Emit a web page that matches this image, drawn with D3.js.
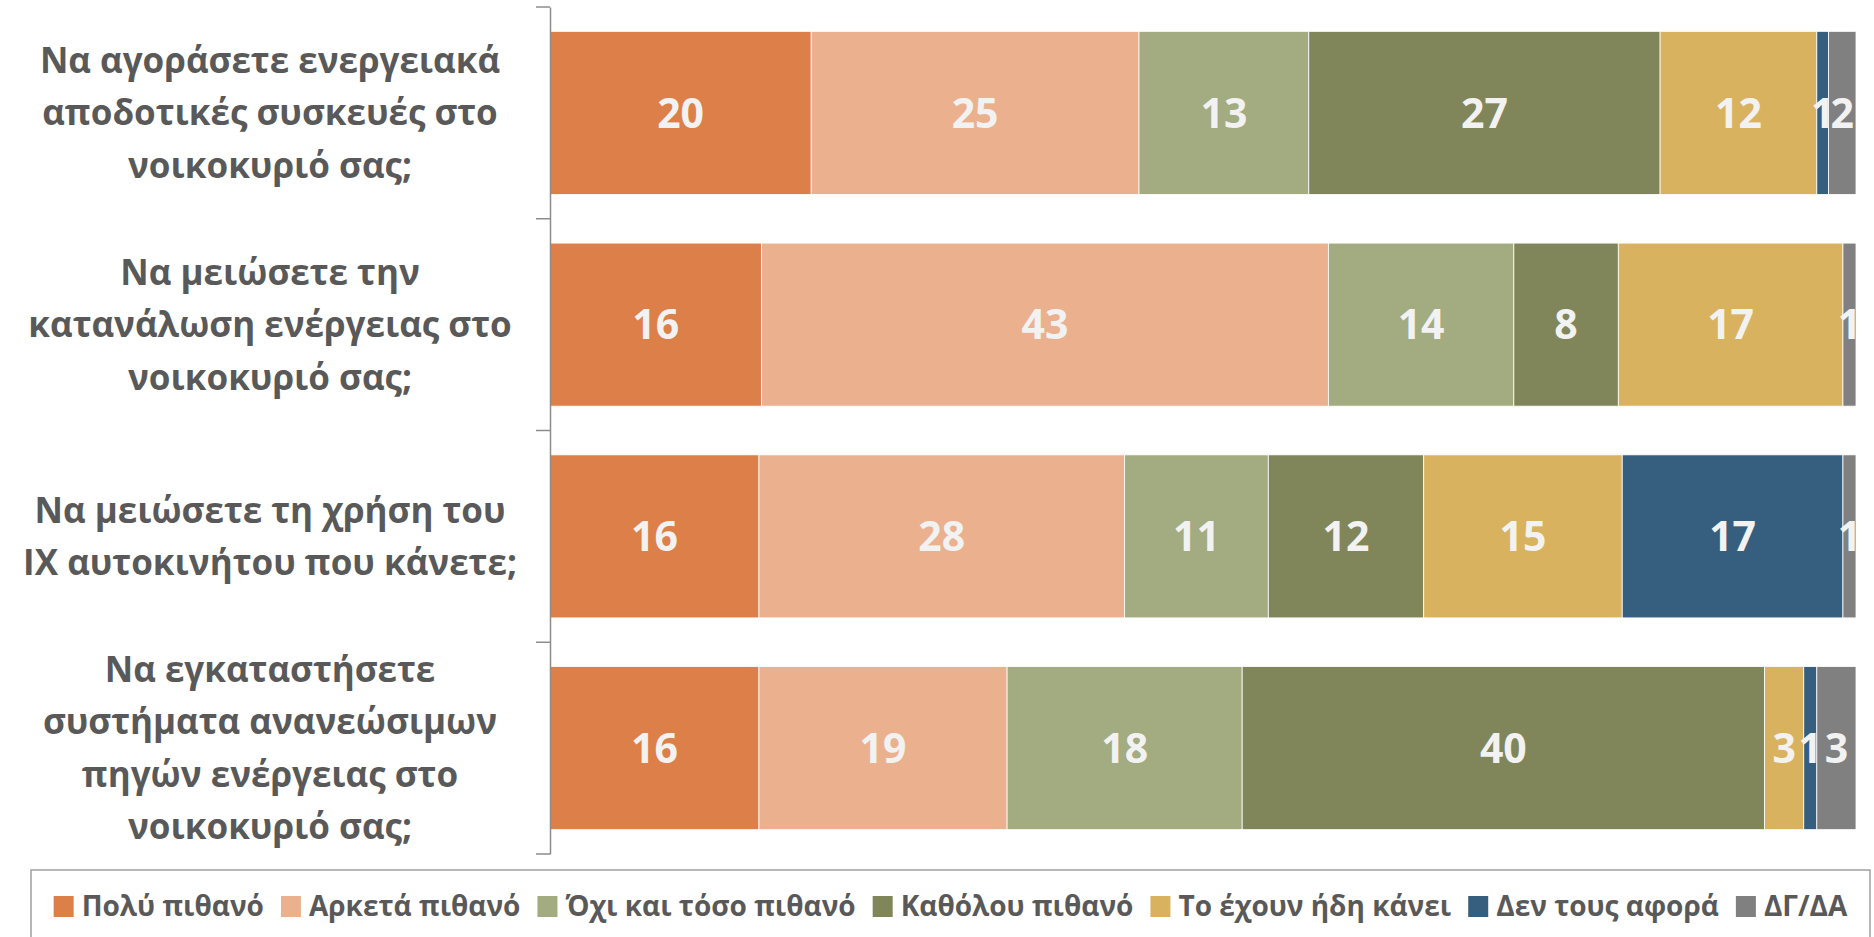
<!DOCTYPE html>
<html>
<head>
<meta charset="utf-8">
<script src="https://cdn.jsdelivr.net/npm/d3@7"></script>
<style>
  body { margin: 0; background: #fff; }
  text { font-family: "Open Sans", sans-serif; font-weight: bold; }
</style>
</head>
<body>
<div id="chart-area"></div>
<script>
// categories (one array of lines per wrapped label)
let categories = [
    ["Να αγοράσετε ενεργειακά", "αποδοτικές συσκευές στο", "νοικοκυριό σας;"],
    ["Να μειώσετε την", "κατανάλωση ενέργειας στο", "νοικοκυριό σας;"],
    ["Να μειώσετε τη χρήση του", "ΙΧ αυτοκινήτου που κάνετε;"],
    ["Να εγκαταστήσετε", "συστήματα ανανεώσιμων", "πηγών ενέργειας στο", "νοικοκυριό σας;"]
];

let seriesNames = ["Πολύ πιθανό", "Αρκετά πιθανό", "Όχι και τόσο πιθανό", "Καθόλου πιθανό",
                   "Το έχουν ήδη κάνει", "Δεν τους αφορά", "ΔΓ/ΔΑ"];

let seriesColors = ["#dd7f48", "#ebb18f", "#a3ab80", "#80865a", "#d8b25f", "#365f7f", "#808080"];

// values per series, one per category (percent)
let polyPithano    = [20.0, 16.2, 16.0, 16.0];
let arketaPithano  = [25.1, 43.4, 28.0, 19.0];
let oxiTosoPithano = [13.0, 14.2, 11.0, 18.0];
let katholouPith   = [26.9,  8.0, 11.9, 40.0];
let exounKanei     = [12.0, 17.2, 15.2,  3.0];
let denAfora       = [ 0.9,  0.0, 16.9,  1.0];
let dgda           = [ 2.1,  1.0,  1.0,  3.0];

let seriesValues = [polyPithano, arketaPithano, oxiTosoPithano, katholouPith, exounKanei, denAfora, dgda];

let width = 1874, height = 937;

let svgCanvas = d3.select("#chart-area")
                    .append("svg")
                    .attr("width", width)
                    .attr("height", height);

// build table for the stack
let table = categories.map((c, i) => {
    let row = { cat: i };
    seriesNames.forEach((s, j) => { row[s] = seriesValues[j][i]; });
    return row;
});

let stacked = d3.stack().keys(seriesNames)(table);

let x = d3.scaleLinear().domain([0, 100]).range([550, 1856]);
let y = d3.scaleBand()
          .domain(d3.range(categories.length))
          .range([7, 854])
          .paddingInner(0.23)
          .paddingOuter(0.115);

let color = d3.scaleOrdinal().domain(seriesNames).range(seriesColors);

svgCanvas.append("clipPath").attr("id", "plot-clip")
    .append("rect")
    .attr("x", x(0)).attr("y", 0)
    .attr("width", x(100) - x(0)).attr("height", height);

let groups = svgCanvas.selectAll("g.series")
                      .data(stacked)
                      .enter().append("g")
                      .attr("class", "series")
                      .attr("fill", d => color(d.key));

groups.selectAll("rect")
      .data(d => d)
      .enter().append("rect")
      .attr("x", d => x(d[0]))
      .attr("y", (d, i) => y(i))
      .attr("width", d => x(d[1]) - x(d[0]))
      .attr("height", y.bandwidth())
      .attr("stroke", "#ffffff")
      .attr("stroke-width", 0.8);

// value labels
let labelLayer = svgCanvas.append("g").attr("clip-path", "url(#plot-clip)");
stacked.forEach(s => {
    s.forEach((d, i) => {
        let v = d[1] - d[0];
        if (v <= 0.05) return;
        labelLayer.append("text")
            .attr("x", (x(d[0]) + x(d[1])) / 2)
            .attr("y", y(i) + y.bandwidth() / 2)
            .attr("dy", "0.36em")
            .attr("text-anchor", "middle")
            .attr("fill", "#f2f2f2")
            .style("font-size", "41px")
            .text(d3.format(".0f")(v));
    });
});

// axis line
svgCanvas.append("g")
    .attr("transform", "translate(" + x(0) + ",0)")
    .call(d3.axisLeft(y).tickSize(0).tickFormat(""))
    .call(g => g.select(".domain").attr("stroke", "#8c8c8c").attr("stroke-width", 1.5));

// tick marks between categories
let bounds = d3.range(categories.length + 1).map(i => y.range()[0] + i * y.step());
svgCanvas.selectAll("line.cat-tick")
    .data(bounds)
    .enter().append("line")
    .attr("class", "cat-tick")
    .attr("x1", x(0) - 14).attr("x2", x(0))
    .attr("y1", d => d).attr("y2", d => d)
    .attr("stroke", "#8c8c8c")
    .attr("stroke-width", 1.5);

// category labels
let lineH = 52.5;
categories.forEach((lines, i) => {
    let cy = y(i) + y.bandwidth() / 2;
    let t = svgCanvas.append("text")
        .attr("text-anchor", "middle")
        .attr("fill", "#595959")
        .style("font-size", "35px");
    lines.forEach((ln, k) => {
        t.append("tspan")
         .attr("x", 270)
         .attr("y", cy + (k - (lines.length - 1) / 2) * lineH)
         .attr("dy", "0.36em")
         .text(ln);
    });
});

// legend
svgCanvas.append("rect")
    .attr("x", 31).attr("y", 870)
    .attr("width", 1839).attr("height", 90)
    .attr("fill", "none")
    .attr("stroke", "#a0a0a0")
    .attr("stroke-width", 1.5);

let legend = svgCanvas.append("g");
let cursor = 0;
seriesNames.forEach((s, j) => {
    let item = legend.append("g").attr("transform", "translate(" + cursor + ",0)");
    item.append("rect")
        .attr("x", 0).attr("y", 896)
        .attr("width", 20).attr("height", 21)
        .attr("fill", color(s));
    let t = item.append("text")
        .attr("x", 28).attr("y", 916)
        .attr("fill", "#595959")
        .style("font-size", "28px")
        .text(s);
    cursor += 28 + t.node().getComputedTextLength() + 17;
});
let legendW = cursor - 17;
legend.attr("transform", "translate(" + (31 + (1839 - legendW) / 2) + ",0)");
</script>
</body>
</html>
